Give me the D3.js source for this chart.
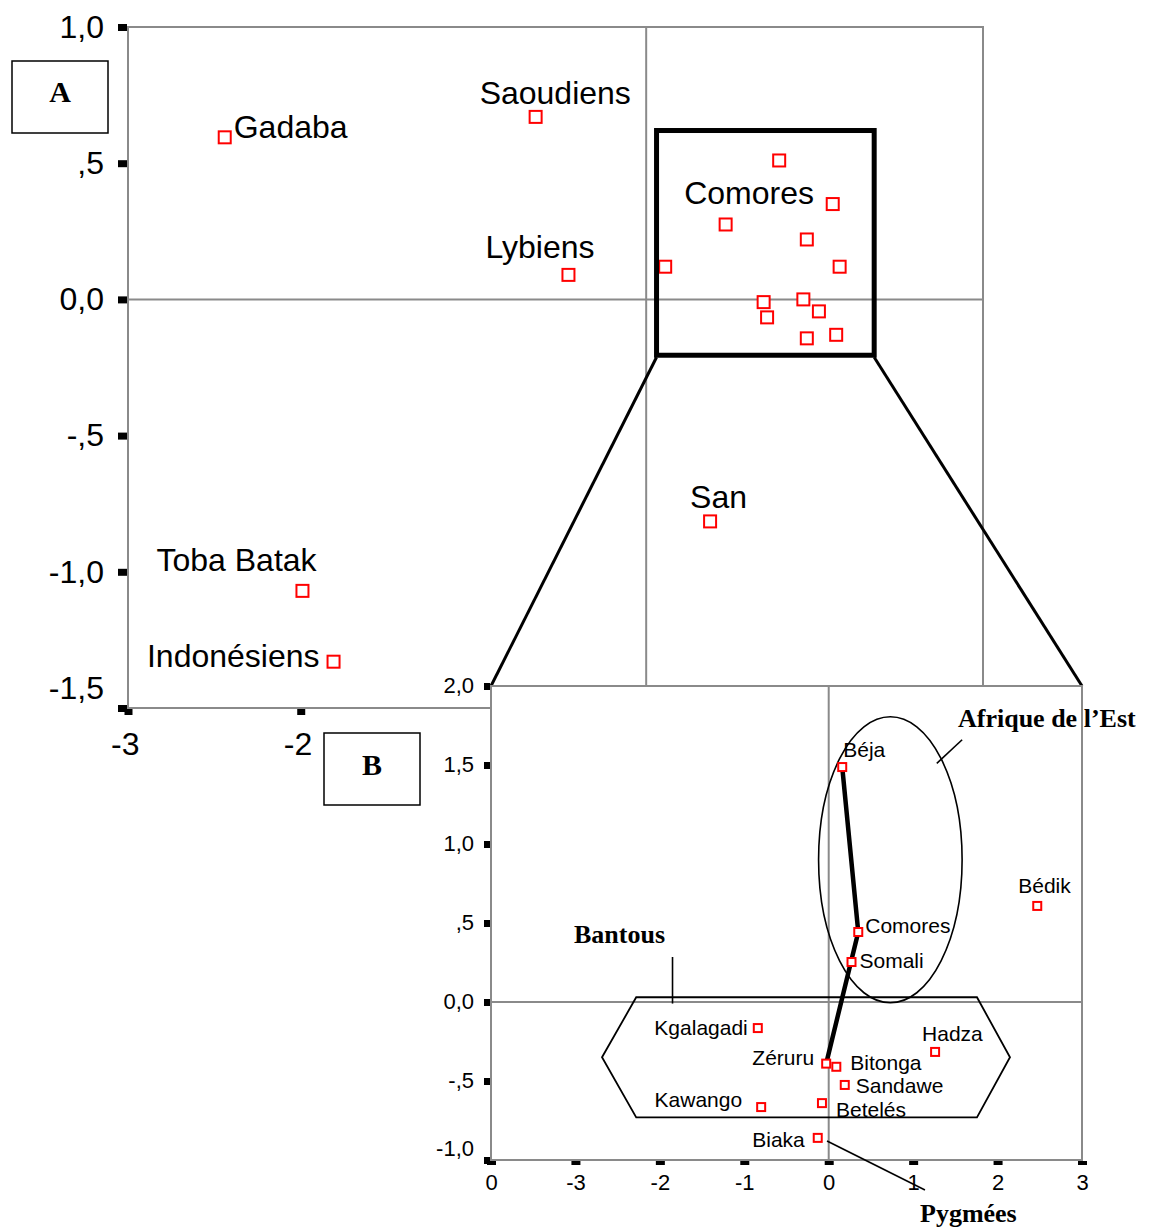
<!DOCTYPE html>
<html>
<head>
<meta charset="utf-8">
<script src="https://cdnjs.cloudflare.com/ajax/libs/d3/7.8.5/d3.min.js"></script>
<style>
html,body{margin:0;padding:0;background:#fff}
svg{display:block}
text{font-family:'Liberation Sans',Arial,sans-serif;fill:#000}
.serif{font-family:'Liberation Serif','Times New Roman',serif;font-weight:bold}
</style>
</head>
<body>
<svg id="chart" width="1152" height="1232"></svg>
<script>
// ---- panel A data (dimension 1 / dimension 2) ----
const namesA = ["Gadaba", "Saoudiens", "Lybiens", "San", "Toba Batak", "Indonésiens"];
const xA = [-2.44, -0.64, -0.45, 0.37, -1.99, -1.81];
const yA = [0.595, 0.67, 0.09, -0.815, -1.07, -1.33];
// Comores cluster (unlabelled points)
const xComores = [0.77, 1.08, 0.46, 0.93, 0.11, 1.12, 0.68, 0.91, 0.70, 1.00, 0.93, 1.10];
const yComores = [0.51, 0.35, 0.275, 0.22, 0.12, 0.12, -0.01, 0.0, -0.066, -0.044, -0.143, -0.13];
const yTicksA = [1.0, 0.5, 0.0, -0.5, -1.0, -1.5];
const xTicksA = [-3, -2];

// ---- panel B data ----
const namesB = ["Béja", "Bédik", "Comores", "Somali", "Hadza", "Bitonga", "Zéruru",
                "Sandawe", "Betelés", "Biaka", "Kgalagadi", "Kawango"];
const xB = [0.16, 2.47, 0.35, 0.27, 1.26, 0.09, -0.03, 0.19, -0.08, -0.13, -0.84, -0.80];
const yB = [1.487, 0.608, 0.443, 0.253, -0.316, -0.41, -0.39, -0.525, -0.64, -0.86, -0.165, -0.665];
const yTicksB = [2.0, 1.5, 1.0, 0.5, 0.0, -0.5, -1.0];
const xTicksB = [-4, -3, -2, -1, 0, 1, 2, 3];
const xTickLabelsB = ["0", "-3", "-2", "-1", "0", "1", "2", "3"];
const pathB = ["Béja", "Comores", "Zéruru"];

// ---- layout ----
const svg = d3.select("#chart");
const grey = "#8a8a8a";
const fmt = v => v === 0 ? "0,0" : v.toFixed(1).replace(".", ",").replace(/^(-?)0,/, "$1,");

const x = d3.scaleLinear().domain([-3, 1.95]).range([128, 983]);
const y = d3.scaleLinear().domain([-1.5, 1.0]).range([708, 27]);
const bx = d3.scaleLinear().domain([-4, 3]).range([491, 1082]);
const by = d3.scaleLinear().domain([-1, 2]).range([1160, 686]);

// label placement (px offsets from the point)
const offA = {
  "Gadaba": [9, 1, "start"], "Saoudiens": [-56, -13, "start"], "Lybiens": [-83, -17, "start"],
  "San": [-20, -13, "start"], "Toba Batak": [-146, -20, "start"], "Indonésiens": [-14, 5, "end"]
};
const offB = {
  "Béja": [1, -10, "start"], "Bédik": [-19, -13, "start"], "Comores": [7, 1, "start"],
  "Somali": [8, 6, "start"], "Hadza": [-13, -11, "start"], "Bitonga": [14, 3, "start"],
  "Zéruru": [-12, 1, "end"], "Sandawe": [11, 8, "start"], "Betelés": [14, 14, "start"],
  "Biaka": [-13, 9, "end"], "Kgalagadi": [-10, 7, "end"], "Kawango": [-19, 0, "end"]
};

/* ===== PANEL A ===== */
const gA = svg.append("g");
gA.append("rect").attr("x", x(-3)).attr("y", y(1)).attr("width", x(1.95) - x(-3)).attr("height", y(-1.5) - y(1))
  .attr("fill", "#fff").attr("stroke", grey).attr("stroke-width", 2);
gA.append("line").attr("x1", x(0)).attr("x2", x(0)).attr("y1", y(1)).attr("y2", y(-1.5)).attr("stroke", grey).attr("stroke-width", 2);
gA.append("line").attr("x1", x(-3)).attr("x2", x(1.95)).attr("y1", y(0)).attr("y2", y(0)).attr("stroke", grey).attr("stroke-width", 2);

const ptsA = namesA.map((n, i) => ({name: n, x: xA[i], y: yA[i]}))
  .concat(xComores.map((v, i) => ({name: null, x: v, y: yComores[i]})));
gA.selectAll("rect.pt").data(ptsA).enter().append("rect").attr("class", "pt")
  .attr("x", d => x(d.x) - 6).attr("y", d => y(d.y) - 6).attr("width", 12).attr("height", 12)
  .attr("fill", "#fff").attr("stroke", "#f00").attr("stroke-width", 2);
gA.selectAll("text.lab").data(ptsA.filter(d => d.name)).enter().append("text").attr("class", "lab")
  .attr("x", d => x(d.x) + offA[d.name][0]).attr("y", d => y(d.y) + offA[d.name][1])
  .attr("text-anchor", d => offA[d.name][2]).attr("font-size", 32).text(d => d.name);
gA.append("text").attr("x", x(0.22)).attr("y", y(0.349)).attr("font-size", 32).text("Comores");

// axes A
const axA = gA.append("g").attr("transform", `translate(${x(-3)},0)`)
  .call(d3.axisLeft(y).tickValues(yTicksA).tickFormat(fmt).tickSize(0).tickPadding(24));
axA.select(".domain").remove();
axA.selectAll("text").attr("font-size", 32).attr("font-family", null).attr("dy", d => d === -1.5 ? "-0.3em" : "0.32em");
axA.selectAll(".tick").append("rect").attr("x", -10).attr("y", -3.5).attr("width", 9).attr("height", 7).attr("fill", "#000");

const axAx = gA.append("g").attr("transform", `translate(0,${y(-1.5)})`)
  .call(d3.axisBottom(x).tickValues(xTicksA).tickFormat(d => String(d)).tickSize(0).tickPadding(24));
axAx.select(".domain").remove();
axAx.selectAll("text").attr("font-size", 32).attr("font-family", null).attr("dx", "-0.1em");
axAx.selectAll(".tick").append("rect").attr("x", -4).attr("y", 1).attr("width", 8).attr("height", 6).attr("fill", "#000");

// zoom box
const zb = {x0: 0.06, x1: 1.32, y0: -0.205, y1: 0.62};
svg.append("rect").attr("x", x(zb.x0)).attr("y", y(zb.y1)).attr("width", x(zb.x1) - x(zb.x0)).attr("height", y(zb.y0) - y(zb.y1))
  .attr("fill", "none").attr("stroke", "#000").attr("stroke-width", 5);
svg.append("line").attr("x1", x(zb.x0)).attr("y1", y(zb.y0) + 2).attr("x2", bx(-4)).attr("y2", by(2))
  .attr("stroke", "#000").attr("stroke-width", 3);
svg.append("line").attr("x1", x(zb.x1)).attr("y1", y(zb.y0) + 2).attr("x2", bx(3)).attr("y2", by(2))
  .attr("stroke", "#000").attr("stroke-width", 3);

// box A
svg.append("rect").attr("x", 12).attr("y", 61).attr("width", 96).attr("height", 72)
  .attr("fill", "#fff").attr("stroke", "#000").attr("stroke-width", 1.5);
svg.append("text").attr("class", "serif").attr("x", 60).attr("y", 102).attr("text-anchor", "middle").attr("font-size", 30).text("A");

/* ===== PANEL B ===== */
const gB = svg.append("g");
gB.append("rect").attr("x", bx(-4)).attr("y", by(2)).attr("width", bx(3) - bx(-4)).attr("height", by(-1) - by(2))
  .attr("fill", "#fff").attr("stroke", grey).attr("stroke-width", 2);
gB.append("line").attr("x1", bx(0)).attr("x2", bx(0)).attr("y1", by(2)).attr("y2", by(-1)).attr("stroke", grey).attr("stroke-width", 2);
gB.append("line").attr("x1", bx(-4)).attr("x2", bx(3)).attr("y1", by(0)).attr("y2", by(0)).attr("stroke", grey).attr("stroke-width", 2);

// Afrique de l'Est ellipse
const ell = {cx: 0.73, cy: 0.9, rx: 0.85, ry: 0.905};
gB.append("ellipse").attr("cx", bx(ell.cx)).attr("cy", by(ell.cy))
  .attr("rx", bx(ell.rx) - bx(0)).attr("ry", by(0) - by(ell.ry))
  .attr("fill", "none").attr("stroke", "#000").attr("stroke-width", 1.6);
gB.append("line").attr("x1", bx(1.28)).attr("y1", by(1.51)).attr("x2", bx(1.58)).attr("y2", by(1.66))
  .attr("stroke", "#000").attr("stroke-width", 1.6);
gB.append("text").attr("class", "serif").attr("x", 958).attr("y", 727).attr("font-size", 26).text("Afrique de l’Est");

// Bantous hexagon
const hex = [[-2.685, -0.35], [-2.28, 0.03], [1.756, 0.03], [2.147, -0.35], [1.756, -0.73], [-2.28, -0.73]];
gB.append("path").attr("d", d3.line().x(d => bx(d[0])).y(d => by(d[1]))(hex) + "Z")
  .attr("fill", "none").attr("stroke", "#000").attr("stroke-width", 1.8);
gB.append("line").attr("x1", bx(-1.85)).attr("x2", bx(-1.85)).attr("y1", by(0.285)).attr("y2", by(-0.01))
  .attr("stroke", "#000").attr("stroke-width", 1.6);
gB.append("text").attr("class", "serif").attr("x", 574).attr("y", 943).attr("font-size", 26).text("Bantous");

// Pygmées leader
gB.append("line").attr("x1", bx(-0.02)).attr("y1", by(-0.88)).attr("x2", bx(1.14)).attr("y2", by(-1.19))
  .attr("stroke", "#000").attr("stroke-width", 1.6);
gB.append("text").attr("class", "serif").attr("x", 920).attr("y", 1222).attr("font-size", 26).text("Pygmées");

const ptsB = namesB.map((n, i) => ({name: n, x: xB[i], y: yB[i]}));
// thick link Béja - Comores - Zéruru
gB.append("path").datum(pathB.map(n => ptsB.find(p => p.name === n)))
  .attr("d", d3.line().x(d => bx(d.x)).y(d => by(d.y)))
  .attr("fill", "none").attr("stroke", "#000").attr("stroke-width", 4.5);

gB.selectAll("rect.pt").data(ptsB).enter().append("rect").attr("class", "pt")
  .attr("x", d => bx(d.x) - 4).attr("y", d => by(d.y) - 4).attr("width", 8).attr("height", 8)
  .attr("fill", "#fff").attr("stroke", "#f00").attr("stroke-width", 2);
gB.selectAll("text.lab").data(ptsB).enter().append("text").attr("class", "lab")
  .attr("x", d => bx(d.x) + offB[d.name][0]).attr("y", d => by(d.y) + offB[d.name][1])
  .attr("text-anchor", d => offB[d.name][2]).attr("font-size", 21).text(d => d.name);

// axes B
const axB = gB.append("g").attr("transform", `translate(${bx(-4)},0)`)
  .call(d3.axisLeft(by).tickValues(yTicksB).tickFormat(fmt).tickSize(0).tickPadding(17));
axB.select(".domain").remove();
axB.selectAll("text").attr("font-size", 22).attr("font-family", null).attr("dy", d => d === -1 ? "-0.2em" : "0.3em");
axB.selectAll(".tick").append("rect").attr("x", -7).attr("y", -3.5).attr("width", 6).attr("height", 7).attr("fill", "#000");

const axBx = gB.append("g").attr("transform", `translate(0,${by(-1)})`)
  .call(d3.axisBottom(bx).tickValues(xTicksB).tickFormat((d, i) => xTickLabelsB[i]).tickSize(0).tickPadding(14));
axBx.select(".domain").remove();
axBx.selectAll("text").attr("font-size", 22).attr("font-family", null);
axBx.selectAll(".tick").append("rect").attr("x", -4.5).attr("y", 1).attr("width", 9).attr("height", 4).attr("fill", "#000");

// box B
svg.append("rect").attr("x", 324).attr("y", 733).attr("width", 96).attr("height", 72)
  .attr("fill", "#fff").attr("stroke", "#000").attr("stroke-width", 1.5);
svg.append("text").attr("class", "serif").attr("x", 372).attr("y", 775).attr("text-anchor", "middle").attr("font-size", 30).text("B");
</script>
</body>
</html>
